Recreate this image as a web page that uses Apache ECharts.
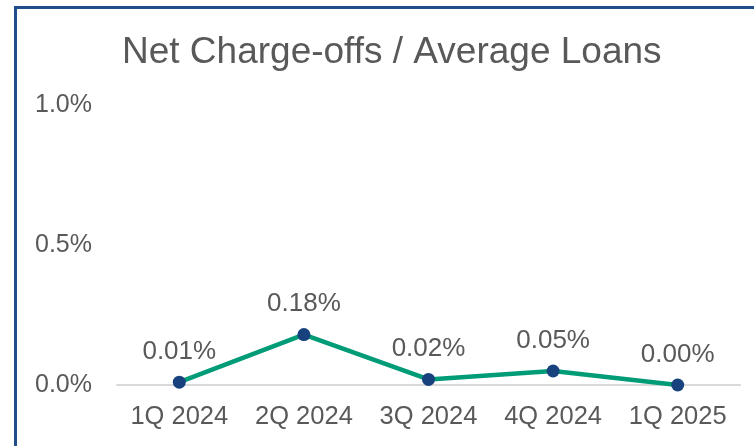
<!DOCTYPE html>
<html>
<head>
<meta charset="utf-8">
<script src="https://cdn.jsdelivr.net/npm/echarts@6/dist/echarts.min.js"></script>
<style>
html,body{margin:0;padding:0;background:#fff;}
#chart{width:754px;height:446px;}
</style>
</head>
<body>
<div id="chart"></div>
<script>
var categories = ['1Q 2024', '2Q 2024', '3Q 2024', '4Q 2024', '1Q 2025'];
var ratioValues = [0.01, 0.18, 0.02, 0.05, 0.00];
var yTicks = [0, 0.5, 1.0];

var chart = echarts.init(document.getElementById('chart'));
var font = '"Liberation Sans", Arial, sans-serif';
chart.setOption({
  animation: false,
  backgroundColor: '#ffffff',
  title: {
    text: 'Net Charge-offs / Average Loans',
    left: 117,
    top: 29,
    textStyle: { fontFamily: font, fontSize: 37, fontWeight: 'normal', color: '#595959' }
  },
  graphic: [{
    type: 'rect',
    shape: { x: 15.5, y: 7.5, width: 800, height: 500 },
    style: { fill: 'none', stroke: '#1F4E89', lineWidth: 3 },
    silent: true
  }],
  grid: { left: 117, right: 14, top: 105, bottom: 61 },
  xAxis: {
    type: 'category',
    data: categories,
    axisLine: { show: true, lineStyle: { color: '#D9D9D9', width: 2 } },
    axisTick: { show: false },
    axisLabel: { interval: 0, fontFamily: font, fontSize: 25.5, color: '#595959', margin: 19 }
  },
  yAxis: {
    type: 'value',
    min: yTicks[0],
    max: yTicks[yTicks.length - 1],
    interval: 0.5,
    axisLine: { show: false },
    axisTick: { show: false },
    splitLine: { show: false },
    axisLabel: {
      fontFamily: font, fontSize: 25, color: '#595959', margin: 25,
      formatter: function (v) { return v.toFixed(1) + '%'; }
    }
  },
  series: [{
    type: 'line',
    data: ratioValues,
    symbol: 'circle',
    symbolSize: 13,
    lineStyle: { color: '#009B77', width: 4.5 },
    itemStyle: { color: '#17427E' },
    label: {
      show: true,
      position: 'top',
      distance: 11,
      fontFamily: font,
      fontSize: 26,
      color: '#595959',
      formatter: function (p) { return p.value.toFixed(2) + '%'; }
    }
  }]
});
</script>
</body>
</html>
